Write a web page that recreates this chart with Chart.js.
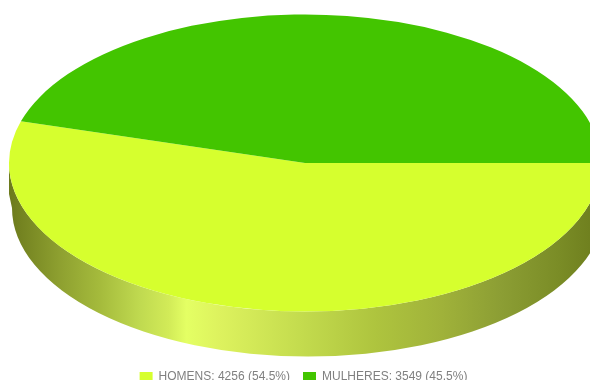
<!DOCTYPE html>
<html>
<head>
<meta charset="utf-8">
<title>Homens e mulheres</title>
<script src="https://cdn.jsdelivr.net/npm/chart.js@4"></script>
<style>
  html, body { margin: 0; padding: 0; background: #fff; overflow: hidden; }
  canvas { display: block; }
</style>
</head>
<body>
<canvas id="genderChart" width="590" height="380"></canvas>
<script>
// Data
const categories = ['HOMENS', 'MULHERES'];
const counts = [4256, 3549];
const shares = ['54.5%', '45.5%'];
const sliceColors = ['#D6FF2E', '#43C500'];

// Tilted disc geometry on the canvas
const disc = { x: 305, y: 163, rx: 296, ry: 148.5, depth: 45, wallShift: 3 };

// Side wall shading, left to right
function wallGradient(ctx) {
  var g = ctx.createLinearGradient(disc.x - disc.rx, 0, disc.x + disc.rx, 0);
  g.addColorStop(0, '#6C7A1C');
  g.addColorStop(0.086, '#8EA030');
  g.addColorStop(0.154, '#A5BB3C');
  g.addColorStop(0.222, '#C0DA50');
  g.addColorStop(0.27, '#D2EB58');
  g.addColorStop(0.30, '#E4FF64');
  g.addColorStop(0.356, '#DDF25E');
  g.addColorStop(0.49, '#C4DC4E');
  g.addColorStop(0.62, '#AEC43E');
  g.addColorStop(0.73, '#A0B23A');
  g.addColorStop(0.83, '#8C9E34');
  g.addColorStop(0.93, '#7A8C26');
  g.addColorStop(1, '#6C7C1C');
  return g;
}

// Squashes the pie into an ellipse and draws the rim under it
const tiltPlugin = {
  id: 'tilt',
  beforeDatasetsDraw(chart) {
    var ctx = chart.ctx;
    var arcs = chart.getDatasetMeta(0).data;

    // Only the part of a slice facing the viewer (0..PI) has a visible wall
    arcs.forEach(function (arc) {
      var from = Math.max(arc.startAngle, 0);
      var to = Math.min(arc.endAngle, Math.PI);
      if (to <= from) return;
      ctx.save();
      ctx.beginPath();
      ctx.ellipse(disc.x, disc.y, disc.rx, disc.ry, 0, from, to);
      // straight drop at the end of the top edge, easing into the lower edge
      ctx.lineTo(disc.x + disc.rx * Math.cos(to), disc.y + disc.ry * Math.sin(to) + disc.depth - 14);
      ctx.ellipse(disc.x + disc.wallShift, disc.y + disc.depth, disc.rx, disc.ry, 0, to, from, true);
      ctx.closePath();
      ctx.fillStyle = wallGradient(ctx);
      ctx.fill();
      ctx.restore();
    });

    var first = arcs[0];
    ctx.save();
    ctx.translate(disc.x, disc.y);
    ctx.scale(disc.rx / first.outerRadius, disc.ry / first.outerRadius);
    ctx.translate(-first.x, -first.y);
  },
  afterDatasetsDraw(chart) {
    chart.ctx.restore();
  }
};

var ctx = document.getElementById('genderChart').getContext('2d');

var genderChart = new Chart(ctx, {
  type: 'pie',
  data: {
    labels: categories,
    datasets: [{
      data: counts,
      backgroundColor: sliceColors,
      borderWidth: 0
    }]
  },
  options: {
    responsive: false,
    animation: false,
    rotation: 90,
    layout: { padding: { left: 17, bottom: -13 } },
    plugins: {
      tooltip: { enabled: false },
      legend: {
        position: 'bottom',
        onClick: null,
        labels: {
          boxWidth: 13,
          boxHeight: 10,
          padding: 13,
          color: '#808080',
          font: { family: '"Liberation Sans", Arial, sans-serif', size: 12 },
          generateLabels: function () {
            return categories.map(function (name, i) {
              return {
                text: name + ': ' + counts[i] + ' (' + shares[i] + ')',
                fillStyle: sliceColors[i],
                strokeStyle: sliceColors[i],
                lineWidth: 0,
                fontColor: '#808080',
                index: i
              };
            });
          }
        }
      }
    }
  },
  plugins: [tiltPlugin]
});
</script>
</body>
</html>
